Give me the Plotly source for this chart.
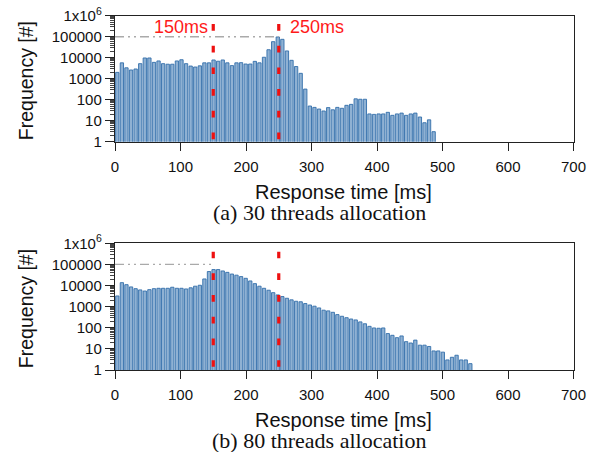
import plotly.graph_objects as go

# ---- data ----
BIN_MS = 7
freq_30 = [2000, 5700, 3300, 2600, 2900, 5200, 9700, 9700, 6000, 7000,
           5200, 4900, 4900, 7000, 8000, 5200, 4000, 3600, 4100, 5700,
           5700, 7800, 6800, 7800, 5700, 4200, 5700, 5800, 5000, 5000,
           6700, 5700, 10500, 24000, 58000, 97000, 75000, 21000, 7500, 3800,
           1800, 320, 50, 43, 36, 29, 42, 33, 43, 39,
           54, 60, 110, 105, 105, 21, 20, 21, 21, 25,
           18, 21, 23, 18, 21, 23, 15, 8, 11, 3]
freq_80 = [3200, 13700, 11000, 8600, 7100, 6200, 5500, 6400, 7100, 7400,
           7400, 7400, 8300, 7400, 7400, 6900, 7800, 9300, 10300, 20500,
           46000, 57000, 57000, 49000, 42000, 35000, 31000, 26500, 22000, 16500,
           12300, 9300, 7400, 6000, 4600, 3600, 3000, 2500, 2100, 1800,
           1700, 1400, 1200, 1050, 870, 680, 630, 540, 420, 350,
           300, 260, 235, 190, 155, 117, 98, 95, 98, 53,
           44, 34, 41, 22, 19, 26, 15, 15, 13, 8,
           8, 7, 3, 4, 5, 3, 3, 2]
thresholds = [150, 250]
ref_level = 100000
ref_end = [250, 150]
captions = ["(a) 30 threads allocation", "(b) 80 threads allocation"]
x_ticks = [0, 100, 200, 300, 400, 500, 600, 700]
y_ticks = [1, 10, 100, 1000, 10000, 100000, 1000000]
y_ticktext = ["1", "10", "100", "1000", "10000", "100000", "1x10<sup>6</sup>"]

W, H = 597, 452
L, R = 115, 573.5
top_px = [(15.7, 141.7), (243.3, 370.0)]

def yfrac(p):
    return 1 - p / H

def xfrac(p):
    return p / W

FILL = "rgb(143,177,211)"
EDGE = "rgb(50,110,170)"
SANS = "Liberation Sans, Arial, sans-serif"
SERIF = "Liberation Serif, Times New Roman, serif"

fig = go.Figure()
minor_vals = [m * 10 ** k for k in range(0, 6) for m in range(2, 10)]

for idx, data in enumerate([freq_30, freq_80]):
    n = idx + 1
    xa = "x" if n == 1 else "x2"
    ya = "y" if n == 1 else "y2"
    xs = [BIN_MS * i + BIN_MS / 2 for i in range(len(data))]
    fig.add_trace(go.Bar(x=xs, y=data, width=BIN_MS * 0.72, xaxis=xa, yaxis=ya,
                         marker=dict(color=FILL, line=dict(color=EDGE, width=0.9)),
                         showlegend=False, hoverinfo="skip"))
    y0p, y1p = top_px[idx]
    dom_y = [yfrac(y1p), yfrac(y0p)]
    axx = dict(domain=[xfrac(L), xfrac(R)], range=[0, 700], tickvals=x_ticks,
               ticks="outside", ticklen=8, tickcolor="#222", tickwidth=1,
               showline=True, linecolor="#222", linewidth=1.2, mirror=True,
               showgrid=False, zeroline=False, ticklabelstandoff=3,
               automargin=False,
               tickfont=dict(family=SANS, size=15, color="#111"),
               anchor=ya)
    axy = dict(domain=dom_y, type="log", range=[0, 6], tickvals=y_ticks,
               ticktext=y_ticktext, ticks="outside", ticklen=9, tickcolor="#222",
               tickwidth=1, showline=True, linecolor="#222", linewidth=1.2,
               mirror=True, showgrid=False, zeroline=False, automargin=False,
               minor=dict(tickmode="array", tickvals=minor_vals, ticks="outside",
                          ticklen=4, tickcolor="#444", showgrid=False),
               tickfont=dict(family=SANS, size=15, color="#111"),
               anchor=xa)
    if n == 1:
        fig.update_layout(xaxis=axx, yaxis=axy)
    else:
        fig.update_layout(xaxis2=axx, yaxis2=axy)

    # reference dash-dot line at 100000
    fig.add_shape(type="line", xref=xa, yref=ya, x0=0, x1=ref_end[idx],
                  y0=ref_level, y1=ref_level,
                  line=dict(color="#aaaaaa", width=1.4,
                            dash="9px,4px,2px,4px,2px,4px"))
    # red dashed thresholds
    for t in thresholds:
        fig.add_shape(type="line", xref=xa, yref=ya + " domain", x0=t, x1=t,
                      y0=1 - 8.3 / 126, y1=0,
                      line=dict(color="#ee1111", width=3.2, dash="6.7px,15px"))
    # axis titles
    fig.add_annotation(text="Frequency [#]", xref="paper", yref="paper",
                       x=xfrac(25.5), y=yfrac((y0p + y1p) / 2 + 2), textangle=-90,
                       showarrow=False, xanchor="center", yanchor="middle",
                       font=dict(family=SANS, size=19.5, color="#111"))
    fig.add_annotation(text="Response time [ms]", xref="paper", yref="paper",
                       x=xfrac(343.5), y=yfrac(y1p + 50), showarrow=False,
                       xanchor="center", yanchor="middle",
                       font=dict(family=SANS, size=20, color="#111"))
    fig.add_annotation(text=captions[idx], xref="paper", yref="paper",
                       x=xfrac(319), y=yfrac(y1p + 70.5), showarrow=False,
                       xanchor="center", yanchor="middle", borderpad=0,
                       font=dict(family=SERIF, size=22, color="#111"))

fig.add_annotation(text="150ms", xref="x", yref="paper", x=150, y=yfrac(27),
                   xshift=-3, xanchor="right", yanchor="middle", showarrow=False,
                   font=dict(family=SANS, size=18, color="#ff1a1a"))
fig.add_annotation(text="250ms", xref="x", yref="paper", x=250, y=yfrac(27),
                   xshift=9, xanchor="left", yanchor="middle", showarrow=False,
                   font=dict(family=SANS, size=18, color="#ff1a1a"))

fig.update_layout(width=W, height=H, margin=dict(l=0, r=0, t=0, b=0),
                  plot_bgcolor="white", paper_bgcolor="white", bargap=0,
                  hovermode=False)
fig.write_html("out.html", config={"displayModeBar": False, "staticPlot": True},
               post_script="document.body.style.margin='0';"
                           "document.body.style.overflow='hidden';")
